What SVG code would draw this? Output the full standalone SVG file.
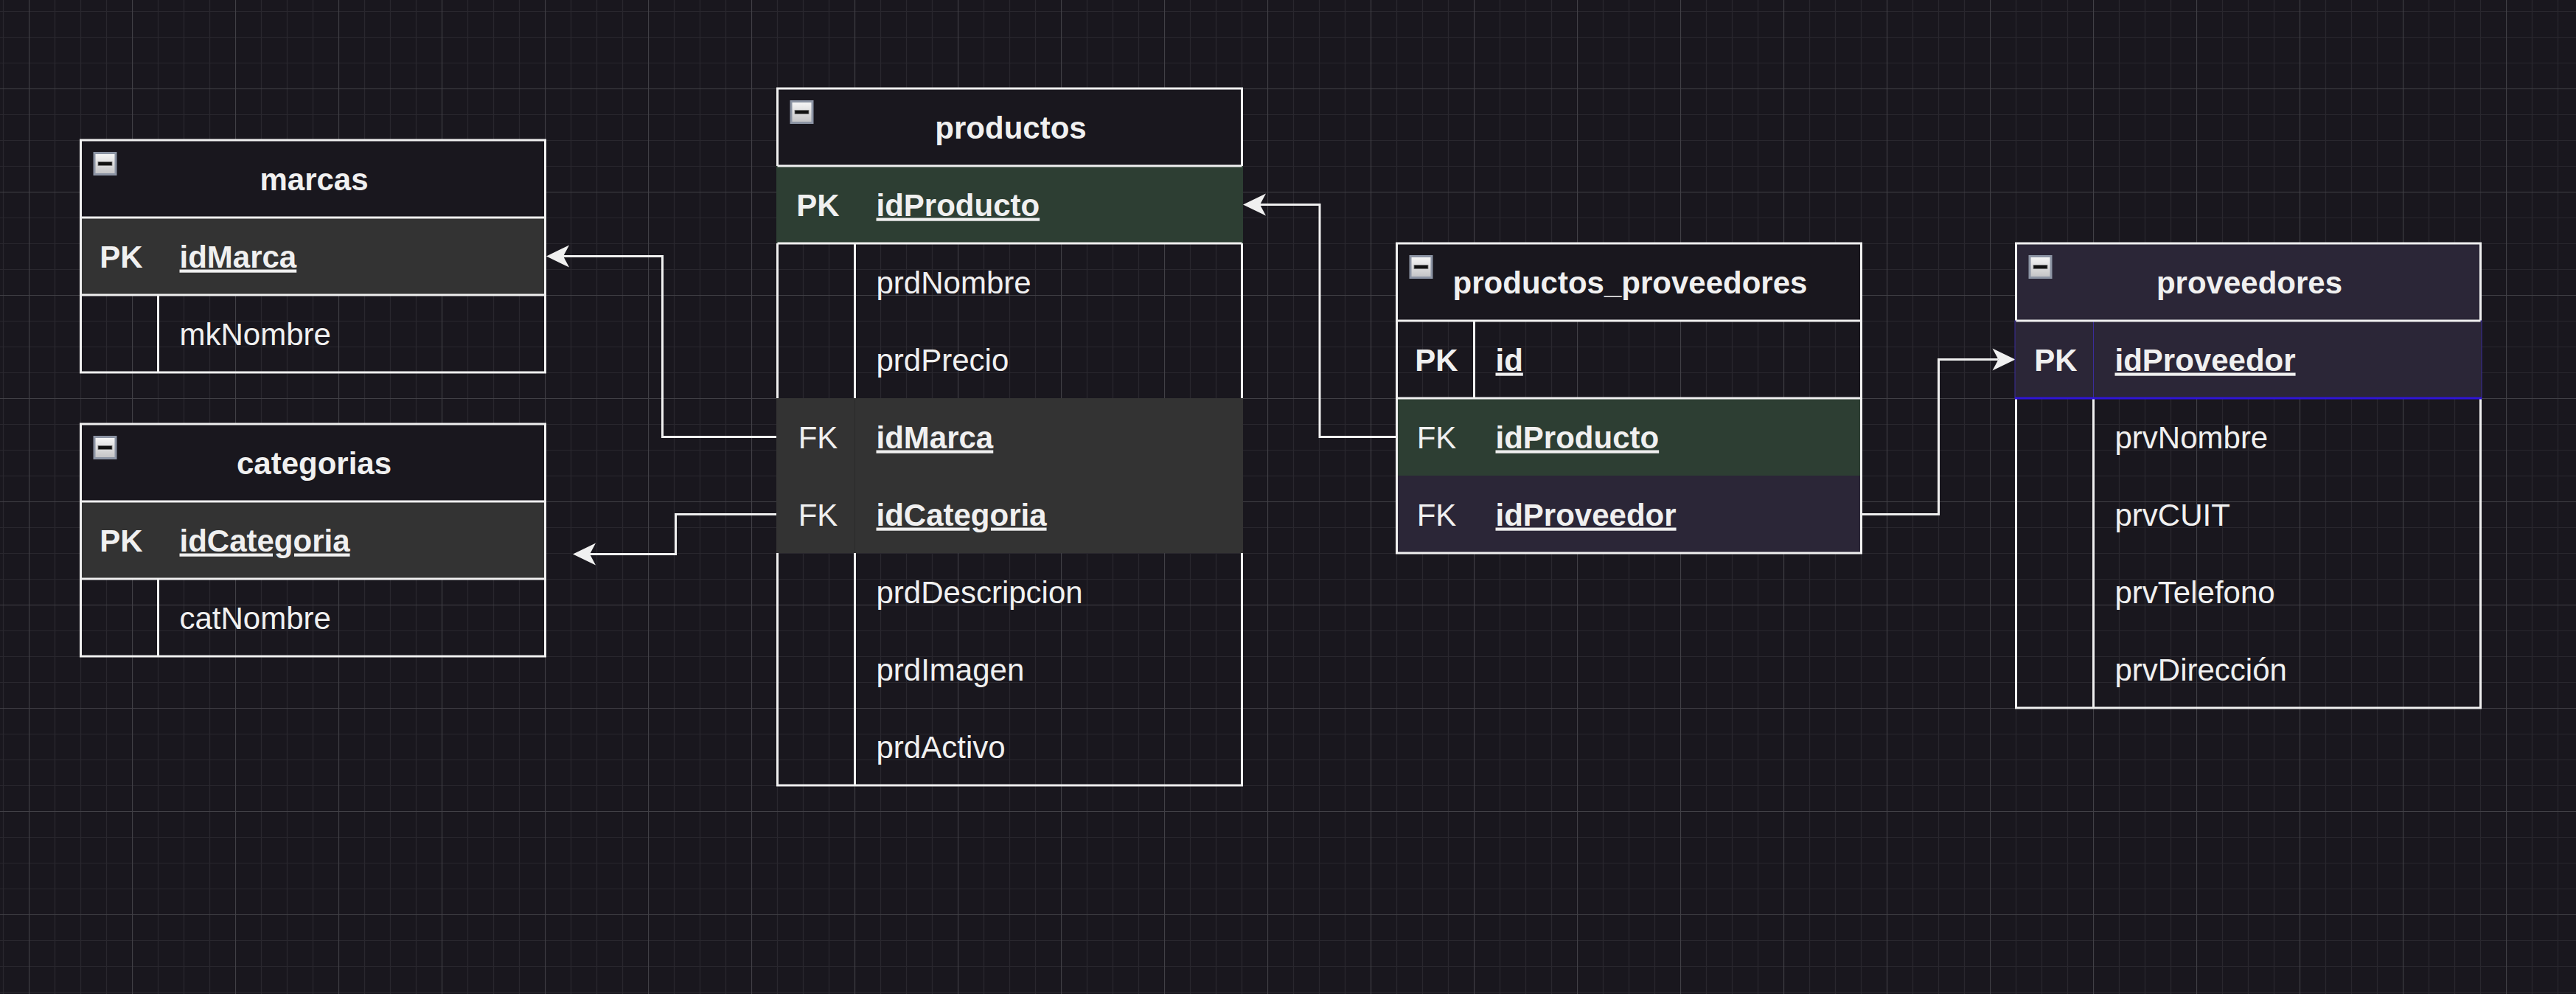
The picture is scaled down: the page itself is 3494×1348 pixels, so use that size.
<svg xmlns="http://www.w3.org/2000/svg" width="3494" height="1348" viewBox="0 0 3494 1348">
<defs>
<style>
.bd{fill:none;stroke:#f0f0f0;stroke-width:3}
.ln{fill:none;stroke:#f0f0f0;stroke-width:3}
.t{font-family:"Liberation Sans",Arial,Helvetica,sans-serif;font-size:42px;fill:#f0f0f0}
.b{font-weight:bold}
.u{text-decoration:underline}
.c{text-anchor:middle}
.hd{fill:#19171e}
.gray{fill:#333333}
.green{fill:#2d3e33}
.purple{fill:#2b2637}
.edge{fill:none;stroke:#f0f0f0;stroke-width:3;marker-end:url(#arr)}
</style>
<linearGradient id="cg" x1="0" y1="0" x2="0" y2="1">
<stop offset="0" stop-color="#f8f8f8"/>
<stop offset="1" stop-color="#c2c2c4"/>
</linearGradient>
<g id="col">
<rect x="1.5" y="1.5" width="29" height="29" fill="url(#cg)" stroke="#8c94a4" stroke-width="3"/>
<rect x="6.5" y="13.5" width="19" height="5" fill="#111111" stroke="#777777" stroke-width="0.8"/>
</g>
<marker id="arr" markerUnits="userSpaceOnUse" viewBox="-32 -17 34 34" refX="-23" refY="0" markerWidth="34" markerHeight="34" orient="auto">
<path d="M0,0 L-31,-15 L-23,0 L-31,15 Z" fill="#f0f0f0"/>
</marker>
<pattern id="grid" patternUnits="userSpaceOnUse" x="39" y="120" width="140" height="140">
<rect width="140" height="140" fill="#19171e"/>
<path d="M35.5,0V140M70.5,0V140M105.5,0V140M0,35.5H140M0,70.5H140M0,105.5H140" stroke="#29272e" stroke-width="1.2"/>
<path d="M0.5,0V140M0,0.5H140" stroke="#414046" stroke-width="1.2"/>
</pattern>
</defs>

<rect x="0" y="0" width="3494" height="1348" fill="url(#grid)"/>

<g id="connectors">
<path class="edge" d="M1054.5,592.5H898.5V347.5H764"/>
<path class="edge" d="M1054.5,697.5H916.5V751.5H800"/>
<path class="edge" d="M1894.5,592.5H1790V277.5H1709"/>
<path class="edge" d="M2524.5,697.5H2629.5V487.5H2710.5"/>
</g>

<g id="marcas">
<rect class="hd" x="109.5" y="190" width="630" height="105"/>
<rect class="gray" x="109.5" y="295" width="630" height="105"/>
<rect class="bd" x="109.5" y="190" width="630" height="315"/>
<path class="ln" d="M109.5,295H739.5M109.5,400H739.5M214.5,400V505"/>
<use href="#col" x="126.5" y="206"/>
<text class="t b c" x="426" y="257.5">marcas</text>
<text class="t b c" x="164.5" y="362.5">PK</text>
<text class="t b u" x="243.5" y="362.5">idMarca</text>
<text class="t" x="243.5" y="467.5">mkNombre</text>
</g>

<g id="categorias">
<rect class="hd" x="109.5" y="575" width="630" height="105"/>
<rect class="gray" x="109.5" y="680" width="630" height="105"/>
<rect class="bd" x="109.5" y="575" width="630" height="315"/>
<path class="ln" d="M109.5,680H739.5M109.5,785H739.5M214.5,785V890"/>
<use href="#col" x="126.5" y="591"/>
<text class="t b c" x="426" y="642.5">categorias</text>
<text class="t b c" x="164.5" y="747.5">PK</text>
<text class="t b u" x="243.5" y="747.5">idCategoria</text>
<text class="t" x="243.5" y="852.5">catNombre</text>
</g>

<g id="productos">
<rect class="hd" x="1054.5" y="120" width="630" height="105"/>
<rect class="bd" x="1054.5" y="120" width="630" height="945"/>
<rect class="green" x="1053" y="225" width="633" height="105"/>
<rect class="gray" x="1053" y="540" width="633" height="210"/>
<path class="ln" d="M1054.5,225H1684.5M1054.5,330H1684.5M1159.5,330V540M1159.5,750V1065"/>
<path d="M1159.5,540V750" stroke="#2a2a2a" stroke-width="1"/>
<use href="#col" x="1071.5" y="136"/>
<text class="t b c" x="1371" y="187.5">productos</text>
<text class="t b c" x="1109.5" y="292.5">PK</text>
<text class="t b u" x="1188.5" y="292.5">idProducto</text>
<text class="t" x="1188.5" y="397.5">prdNombre</text>
<text class="t" x="1188.5" y="502.5">prdPrecio</text>
<text class="t c" x="1109.5" y="607.5">FK</text>
<text class="t b u" x="1188.5" y="607.5">idMarca</text>
<text class="t c" x="1109.5" y="712.5">FK</text>
<text class="t b u" x="1188.5" y="712.5">idCategoria</text>
<text class="t" x="1188.5" y="817.5">prdDescripcion</text>
<text class="t" x="1188.5" y="922.5">prdImagen</text>
<text class="t" x="1188.5" y="1027.5">prdActivo</text>
</g>

<g id="productos_proveedores">
<rect class="hd" x="1894.5" y="330" width="630" height="105"/>
<rect class="green" x="1894.5" y="540" width="630" height="105"/>
<rect class="purple" x="1894.5" y="645" width="630" height="105"/>
<rect class="bd" x="1894.5" y="330" width="630" height="420"/>
<path class="ln" d="M1894.5,435H2524.5M1894.5,540H2524.5M1999.5,435V540"/>
<use href="#col" x="1911.5" y="346"/>
<text class="t b c" x="2211" y="397.5">productos_proveedores</text>
<text class="t b c" x="1948.5" y="502.5">PK</text>
<text class="t b u" x="2028.5" y="502.5">id</text>
<text class="t c" x="1948.5" y="607.5">FK</text>
<text class="t b u" x="2028.5" y="607.5">idProducto</text>
<text class="t c" x="1948.5" y="712.5">FK</text>
<text class="t b u" x="2028.5" y="712.5">idProveedor</text>
</g>

<g id="proveedores">
<rect class="purple" x="2734.5" y="330" width="630" height="105"/>
<rect class="bd" x="2734.5" y="330" width="630" height="630"/>
<rect class="purple" x="2733" y="435" width="633" height="105" stroke="#3a2c9c" stroke-width="1"/>
<path d="M2839.5,435V540" stroke="#3a2c9c" stroke-width="1"/>
<path class="ln" d="M2734.5,435H3364.5M2839.5,540V960"/>
<path d="M2733,540H3366" stroke="#2f14d6" stroke-width="3"/>
<use href="#col" x="2751.5" y="346"/>
<text class="t b c" x="3051" y="397.5">proveedores</text>
<text class="t b c" x="2788.5" y="502.5">PK</text>
<text class="t b u" x="2868.5" y="502.5">idProveedor</text>
<text class="t" x="2868.5" y="607.5">prvNombre</text>
<text class="t" x="2868.5" y="712.5">prvCUIT</text>
<text class="t" x="2868.5" y="817.5">prvTelefono</text>
<text class="t" x="2868.5" y="922.5">prvDirección</text>
</g>
</svg>
